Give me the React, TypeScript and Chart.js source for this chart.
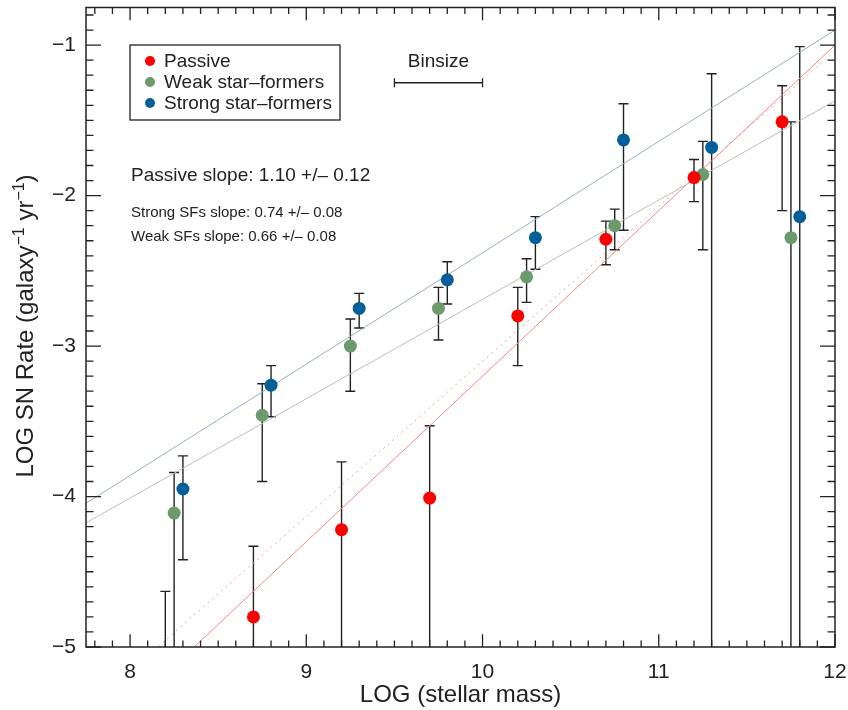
import React, { useEffect, useRef } from "react";
import { Chart, registerables } from "chart.js";

Chart.register(...registerables);

// ---------- data ----------
const passiveMass = [8.2, 8.7, 9.2, 9.7, 10.2, 10.7, 11.2, 11.7];
const passiveRate = [-5.4, -4.8, -4.22, -4.01, -2.8, -2.29, -1.88, -1.51];
const passiveHi = [-4.63, -4.33, -3.77, -3.53, -2.61, -2.17, -1.76, -1.27];
const passiveLo = [-6.0, -6.0, -6.0, -6.0, -3.13, -2.46, -2.04, -2.1];

const weakMass = [8.25, 8.75, 9.25, 9.75, 10.25, 10.75, 11.25, 11.75];
const weakRate = [-4.11, -3.46, -3.0, -2.75, -2.54, -2.2, -1.86, -2.28];
const weakHi = [-3.84, -3.25, -2.82, -2.61, -2.42, -2.09, -1.64, -1.51];
const weakLo = [-6.0, -3.9, -3.3, -2.96, -2.71, -2.36, -2.36, -6.0];

const strongMass = [8.3, 8.8, 9.3, 9.8, 10.3, 10.8, 11.3, 11.8];
const strongRate = [-3.95, -3.26, -2.75, -2.56, -2.28, -1.63, -1.68, -2.14];
const strongHi = [-3.73, -3.13, -2.65, -2.44, -2.14, -1.39, -1.19, -1.01];
const strongLo = [-4.42, -3.47, -2.88, -2.72, -2.49, -2.23, -6.0, -6.0];

const fitMass = [7.75, 12.0];
const strongFit = [-4.045, -0.9];
const weakFit = [-4.175, -1.37];
const passiveFit = [-5.675, -1.0];
const passiveFitAlt = [-5.42, -1.04];

const binsizeRange = [9.5, 10.0];
const binsizeLevel = -1.25;

const xTickValues = [8, 9, 10, 11, 12];
const xTickLabels = ["8", "9", "10", "11", "12"];
const yTickValues = [-5, -4, -3, -2, -1];
const yTickLabels = ["\u22125", "\u22124", "\u22123", "\u22122", "\u22121"];

const legendLabels = ["Passive", "Weak star\u2013formers", "Strong star\u2013formers"];
const slopeMain = "Passive slope: 1.10 +/\u2013 0.12";
const slopeStrong = "Strong SFs slope: 0.74 +/\u2013 0.08";
const slopeWeak = "Weak SFs slope: 0.66 +/\u2013 0.08";
const xTitle = "LOG (stellar mass)";
const yTitleParts: [string, boolean][] = [
  ["LOG SN Rate (galaxy", false],
  ["\u22121", true],
  [" yr", false],
  ["\u22121", true],
  [")", false],
];

// ---------- styles ----------
const FONT = "'Liberation Sans', Arial, Helvetica, sans-serif";
const INK = "#222222";
const RED = "#ff0000";
const GREEN = "#6c9a6c";
const BLUE = "#035f99";

const pts = (xs: number[], ys: number[]) => xs.map((x, i) => ({ x, y: ys[i] }));

const noPad = (s: any) => {
  s.paddingLeft = 0;
  s.paddingRight = 0;
  s.paddingTop = 0;
  s.paddingBottom = 0;
};

const decorPlugin = {
  id: "decor",
  beforeDatasetsDraw(chart: any) {
    const { ctx, chartArea: a, scales } = chart;
    const xs = scales.x;
    const ys = scales.y;
    ctx.save();
    ctx.beginPath();
    ctx.rect(a.left, a.top, a.right - a.left, a.bottom - a.top);
    ctx.clip();
    ctx.strokeStyle = INK;
    ctx.lineWidth = 1.4;
    const series = [
      [passiveMass, passiveHi, passiveLo],
      [weakMass, weakHi, weakLo],
      [strongMass, strongHi, strongLo],
    ];
    const cap = 5;
    for (const [m, hi, lo] of series) {
      for (let i = 0; i < m.length; i++) {
        const px = xs.getPixelForValue(m[i]);
        const pHi = ys.getPixelForValue(hi[i]);
        const pLo = ys.getPixelForValue(lo[i]);
        ctx.beginPath();
        ctx.moveTo(px, pHi);
        ctx.lineTo(px, pLo);
        ctx.moveTo(px - cap, pHi);
        ctx.lineTo(px + cap, pHi);
        ctx.moveTo(px - cap, pLo);
        ctx.lineTo(px + cap, pLo);
        ctx.stroke();
      }
    }
    ctx.restore();
  },
  afterDraw(chart: any) {
    const { ctx, chartArea: a, scales } = chart;
    const xs = scales.x;
    const ys = scales.y;
    ctx.save();
    ctx.strokeStyle = INK;
    ctx.fillStyle = INK;

    // frame
    ctx.lineWidth = 1.5;
    ctx.strokeRect(a.left, a.top, a.right - a.left, a.bottom - a.top);

    // inward ticks
    ctx.lineWidth = 1.3;
    ctx.beginPath();
    const h = a.bottom - a.top;
    const w = a.right - a.left;
    for (let k = Math.ceil(xs.min * 10 - 1e-6); k <= Math.floor(xs.max * 10 + 1e-6); k++) {
      const px = xs.getPixelForValue(k / 10);
      const len = k % 10 === 0 ? 0.02 * h : 0.01 * h;
      ctx.moveTo(px, a.bottom);
      ctx.lineTo(px, a.bottom - len);
      ctx.moveTo(px, a.top);
      ctx.lineTo(px, a.top + len);
    }
    for (let k = Math.ceil(ys.min * 10 - 1e-6); k <= Math.floor(ys.max * 10 + 1e-6); k++) {
      const py = ys.getPixelForValue(k / 10);
      const len = k % 10 === 0 ? 0.02 * w : 0.01 * w;
      ctx.moveTo(a.left, py);
      ctx.lineTo(a.left + len, py);
      ctx.moveTo(a.right, py);
      ctx.lineTo(a.right - len, py);
    }
    ctx.stroke();

    // legend box
    ctx.lineWidth = 1.3;
    ctx.strokeRect(130, 45, 210, 75);
    const legendColors = [RED, GREEN, BLUE];
    const rowY = [61, 82, 103];
    ctx.font = `19px ${FONT}`;
    ctx.textBaseline = "middle";
    ctx.textAlign = "left";
    legendLabels.forEach((t, i) => {
      ctx.fillStyle = legendColors[i];
      ctx.beginPath();
      ctx.arc(150, rowY[i], 5, 0, Math.PI * 2);
      ctx.fill();
      ctx.fillStyle = INK;
      ctx.fillText(t, 164, rowY[i] + 1);
    });

    // binsize bar
    const b0 = xs.getPixelForValue(binsizeRange[0]);
    const b1 = xs.getPixelForValue(binsizeRange[1]);
    const by = ys.getPixelForValue(binsizeLevel);
    ctx.lineWidth = 1.3;
    ctx.beginPath();
    ctx.moveTo(b0, by);
    ctx.lineTo(b1, by);
    ctx.moveTo(b0, by - 4.5);
    ctx.lineTo(b0, by + 4.5);
    ctx.moveTo(b1, by - 4.5);
    ctx.lineTo(b1, by + 4.5);
    ctx.stroke();
    ctx.textAlign = "center";
    ctx.font = `19px ${FONT}`;
    ctx.fillText("Binsize", (b0 + b1) / 2, 62);

    // slope texts
    ctx.textAlign = "left";
    ctx.font = `19px ${FONT}`;
    ctx.fillText(slopeMain, 131, 176);
    ctx.font = `15px ${FONT}`;
    ctx.fillText(slopeStrong, 131, 213);
    ctx.fillText(slopeWeak, 131, 237);

    // y title with superscripts
    const big = `24px ${FONT}`;
    const small = `16px ${FONT}`;
    let total = 0;
    for (const [t, sup] of yTitleParts) {
      ctx.font = sup ? small : big;
      total += ctx.measureText(t).width;
    }
    ctx.translate(33, 326);
    ctx.rotate(-Math.PI / 2);
    ctx.textAlign = "left";
    ctx.textBaseline = "alphabetic";
    let cx = -total / 2;
    for (const [t, sup] of yTitleParts) {
      ctx.font = sup ? small : big;
      ctx.fillText(t, cx, sup ? -9 : 0);
      cx += ctx.measureText(t).width;
    }
    ctx.restore();
  },
};

export default function App() {
  const ref = useRef<HTMLCanvasElement | null>(null);

  useEffect(() => {
    if (!ref.current) return;
    const chart = new Chart(ref.current, {
      type: "scatter",
      data: {
        datasets: [
          {
            label: legendLabels[0],
            data: pts(passiveMass, passiveRate),
            backgroundColor: RED,
            borderWidth: 0,
            pointRadius: 6.5,
          },
          {
            label: legendLabels[1],
            data: pts(weakMass, weakRate),
            backgroundColor: GREEN,
            borderWidth: 0,
            pointRadius: 6.5,
          },
          {
            label: legendLabels[2],
            data: pts(strongMass, strongRate),
            backgroundColor: BLUE,
            borderWidth: 0,
            pointRadius: 6.5,
          },
          {
            label: "Strong fit",
            data: pts(fitMass, strongFit),
            showLine: true,
            borderColor: "#97aec8",
            borderWidth: 1,
            pointRadius: 0,
          },
          {
            label: "Weak fit",
            data: pts(fitMass, weakFit),
            showLine: true,
            borderColor: "#b2c4b0",
            borderWidth: 1,
            pointRadius: 0,
          },
          {
            label: "Passive fit",
            data: pts(fitMass, passiveFit),
            showLine: true,
            borderColor: "#f08a8a",
            borderWidth: 1,
            pointRadius: 0,
          },
          {
            label: "Passive fit (alt)",
            data: pts(fitMass, passiveFitAlt),
            showLine: true,
            borderColor: "#f3a0a0",
            borderWidth: 1,
            borderDash: [2, 4],
            pointRadius: 0,
          },
        ],
      },
      options: {
        animation: false,
        responsive: false,
        devicePixelRatio: 1,
        layout: { padding: { top: 7.5, right: 13, left: 0, bottom: 0 } },
        plugins: { legend: { display: false }, tooltip: { enabled: false } },
        scales: {
          x: {
            type: "linear",
            min: 7.75,
            max: 12,
            afterBuildTicks: (s: any) => {
              s.ticks = xTickValues.map((v) => ({ value: v }));
            },
            afterFit: (s: any) => {
              s.height = 63;
              noPad(s);
            },
            ticks: {
              autoSkip: false,
              maxRotation: 0,
              padding: 13,
              color: INK,
              font: { family: FONT, size: 21 },
              callback: (v: any) => {
                const i = xTickValues.indexOf(Number(v));
                return i >= 0 ? xTickLabels[i] : "";
              },
            },
            grid: { display: false, drawTicks: false },
            border: { display: false },
            title: {
              display: true,
              text: xTitle,
              color: INK,
              font: { family: FONT, size: 24 },
              padding: { top: 0, bottom: 0 },
            },
          },
          y: {
            type: "linear",
            min: -5,
            max: -0.75,
            afterBuildTicks: (s: any) => {
              s.ticks = yTickValues.map((v) => ({ value: v }));
            },
            afterFit: (s: any) => {
              s.width = 86;
              noPad(s);
            },
            ticks: {
              autoSkip: false,
              padding: 10,
              color: INK,
              font: { family: FONT, size: 21 },
              callback: (v: any) => {
                const i = yTickValues.indexOf(Number(v));
                return i >= 0 ? yTickLabels[i] : "";
              },
            },
            grid: { display: false, drawTicks: false },
            border: { display: false },
          },
        },
      },
      plugins: [decorPlugin],
    } as any);
    return () => chart.destroy();
  }, []);

  return (
    <div style={{ position: "absolute", left: 0, top: 0, width: 848, height: 710, background: "#fff" }}>
      <canvas ref={ref} width={848} height={710} />
    </div>
  );
}
